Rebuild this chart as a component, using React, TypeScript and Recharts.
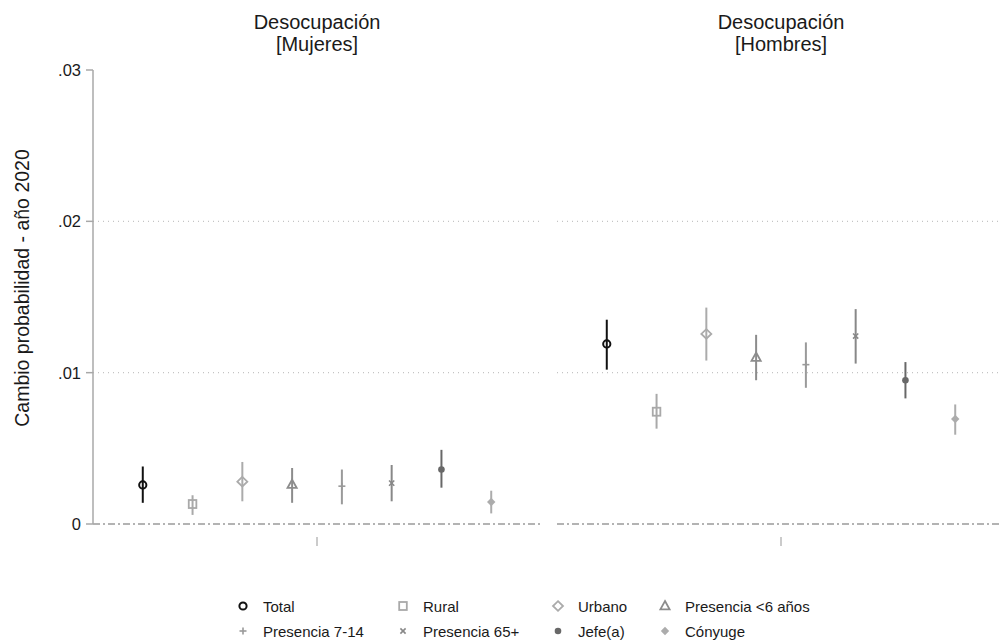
import { ScatterChart, Scatter, XAxis, YAxis, ReferenceLine, ErrorBar } from 'recharts';

const SERIES = ['Total', 'Rural', 'Urbano', 'Presencia <6 años', 'Presencia 7-14', 'Presencia 65+', 'Jefe(a)', 'Cónyuge'];
const COLORS = ['#111111', '#a9a9a9', '#ababab', '#8c8c8c', '#9a9a9a', '#888888', '#686868', '#acacac'];
const MARKERS = ['Oh', 'Sh', 'Dh', 'Th', '+', 'x', 'O', 'D'];
const PANEL_TITLES = ['[Mujeres]', '[Hombres]'];

// Mujeres
const MUJ_EST = [0.00258, 0.00132, 0.0028, 0.0026, 0.0025, 0.0027, 0.0036, 0.00145];
const MUJ_LO = [0.0014, 0.0006, 0.0015, 0.0014, 0.0013, 0.0015, 0.0024, 0.0007];
const MUJ_HI = [0.0038, 0.0019, 0.0041, 0.0037, 0.0036, 0.0039, 0.0049, 0.0022];

// Hombres
const HOM_EST = [0.0119, 0.00742, 0.01256, 0.011, 0.01053, 0.01242, 0.0095, 0.00694];
const HOM_LO = [0.0102, 0.0063, 0.0108, 0.0095, 0.009, 0.0106, 0.0083, 0.0059];
const HOM_HI = [0.0135, 0.0086, 0.0143, 0.0125, 0.012, 0.0142, 0.0107, 0.0079];

const Y_TICKS = [0, 0.01, 0.02, 0.03];
const GRID_LINES = [0.01, 0.02];

const FONT = '"Liberation Sans", Arial, Helvetica, sans-serif';
const AXIS_GRAY = '#a8a8a8';

function marker(kind: string, cx: number, cy: number, color: string) {
  switch (kind) {
    case 'Oh':
      return <circle cx={cx} cy={cy} r={3.6} fill="none" stroke={color} strokeWidth={2} />;
    case 'Sh':
      return <rect x={cx - 3.8} y={cy - 4} width={7.6} height={8} fill="none" stroke={color} strokeWidth={1.8} />;
    case 'Dh':
      return <polygon points={`${cx},${cy - 4.8} ${cx + 5},${cy} ${cx},${cy + 4.8} ${cx - 5},${cy}`} fill="none" stroke={color} strokeWidth={1.8} />;
    case 'Th':
      return <polygon points={`${cx},${cy - 5} ${cx + 4.6},${cy + 3.3} ${cx - 4.6},${cy + 3.3}`} fill="none" stroke={color} strokeWidth={1.8} />;
    case '+':
      return (
        <g stroke={color} strokeWidth={1.6}>
          <line x1={cx - 3.5} x2={cx + 3.5} y1={cy} y2={cy} />
          <line x1={cx} x2={cx} y1={cy - 3.5} y2={cy + 3.5} />
        </g>
      );
    case 'x':
      return (
        <g stroke={color} strokeWidth={1.6}>
          <line x1={cx - 2.6} x2={cx + 2.6} y1={cy - 2.6} y2={cy + 2.6} />
          <line x1={cx - 2.6} x2={cx + 2.6} y1={cy + 2.6} y2={cy - 2.6} />
        </g>
      );
    case 'O':
      return <circle cx={cx} cy={cy} r={3.3} fill={color} />;
    default:
      return <polygon points={`${cx},${cy - 4.2} ${cx + 4.2},${cy} ${cx},${cy + 4.2} ${cx - 4.2},${cy}`} fill={color} />;
  }
}

const centerTick = (props: any) => (
  <line x1={props.x} x2={props.x} y1={props.y + 13} y2={props.y + 22} stroke={AXIS_GRAY} strokeWidth={1.2} />
);

function Panel({ est, lo, hi, showAxis, width, margin }: any) {
  return (
    <ScatterChart width={width} height={640} margin={margin}>
      <XAxis type="number" dataKey="x" domain={[0, 9]} ticks={[4.5]} axisLine={false} tickLine={false} tickSize={0} tickMargin={0} tick={centerTick} height={30} />
      <YAxis
        type="number"
        dataKey="y"
        domain={[0, 0.03]}
        ticks={Y_TICKS}
        hide={!showAxis}
        width={93}
        stroke={AXIS_GRAY}
        strokeWidth={1.5}
        tickSize={7}
        tickMargin={5}
        tick={{ fill: '#1a1a1a', fontSize: 16.5, fontFamily: FONT }}
        tickFormatter={(v: number) => (v === 0 ? '0' : String(v).replace(/^0/, ''))}
      />
      {GRID_LINES.map((g) => (
        <ReferenceLine key={g} y={g} stroke="#c4c4c4" strokeDasharray="1 4" strokeWidth={1.2} />
      ))}
      <ReferenceLine y={0} stroke="#9a9a9a" strokeDasharray="7 3 2 3" strokeWidth={1.5} />
      {SERIES.map((name, i) => (
        <Scatter
          key={name}
          name={name}
          data={[{ x: i + 1, y: est[i], err: [est[i] - lo[i], hi[i] - est[i]] }]}
          isAnimationActive={false}
          shape={(p: any) => marker(MARKERS[i], p.cx, p.cy, COLORS[i])}
        >
          <ErrorBar dataKey="err" direction="y" width={0} stroke={COLORS[i]} strokeWidth={2} isAnimationActive={false} />
        </Scatter>
      ))}
    </ScatterChart>
  );
}

const LEGEND_COLS = [243, 403, 558, 665];
const LEGEND_ROWS = [606, 631];

export default function App() {
  return (
    <div style={{ position: 'absolute', left: 0, top: 0, width: 999, height: 640, overflow: 'hidden', background: '#fff', fontFamily: FONT, color: '#1a1a1a' }}>
      <div style={{ position: 'absolute', left: 0, top: 0 }}>
        <Panel est={MUJ_EST} lo={MUJ_LO} hi={MUJ_HI} showAxis width={545} margin={{ top: 70, right: 4, bottom: 86, left: 0 }} />
      </div>
      <div style={{ position: 'absolute', left: 545, top: 0 }}>
        <Panel est={HOM_EST} lo={HOM_LO} hi={HOM_HI} showAxis={false} width={460} margin={{ top: 70, right: 0, bottom: 86, left: 12 }} />
      </div>

      {PANEL_TITLES.map((t, i) => (
        <div key={t} style={{ position: 'absolute', left: i === 0 ? 217 : 681, top: 11, width: 200, textAlign: 'center', fontSize: 20, lineHeight: '22px' }}>
          Desocupación
          <br />
          {t}
        </div>
      ))}

      <div style={{ position: 'absolute', left: 22, top: 288, width: 0, height: 0 }}>
        <div style={{ position: 'absolute', left: -200, top: -12, width: 400, textAlign: 'center', fontSize: 19.5, lineHeight: '24px', transform: 'rotate(-90deg)', whiteSpace: 'nowrap' }}>
          Cambio probabilidad - año 2020
        </div>
      </div>

      {SERIES.map((name, i) => {
        const cx = LEGEND_COLS[i % 4];
        const cy = LEGEND_ROWS[Math.floor(i / 4)];
        return (
          <div key={name} style={{ position: 'absolute', left: cx - 8, top: cy - 9, height: 18, display: 'flex', alignItems: 'center', whiteSpace: 'nowrap', fontSize: 15 }}>
            <svg width={16} height={18}>{marker(MARKERS[i], 8, 9, COLORS[i])}</svg>
            <span style={{ marginLeft: 12 }}>{name}</span>
          </div>
        );
      })}
    </div>
  );
}
